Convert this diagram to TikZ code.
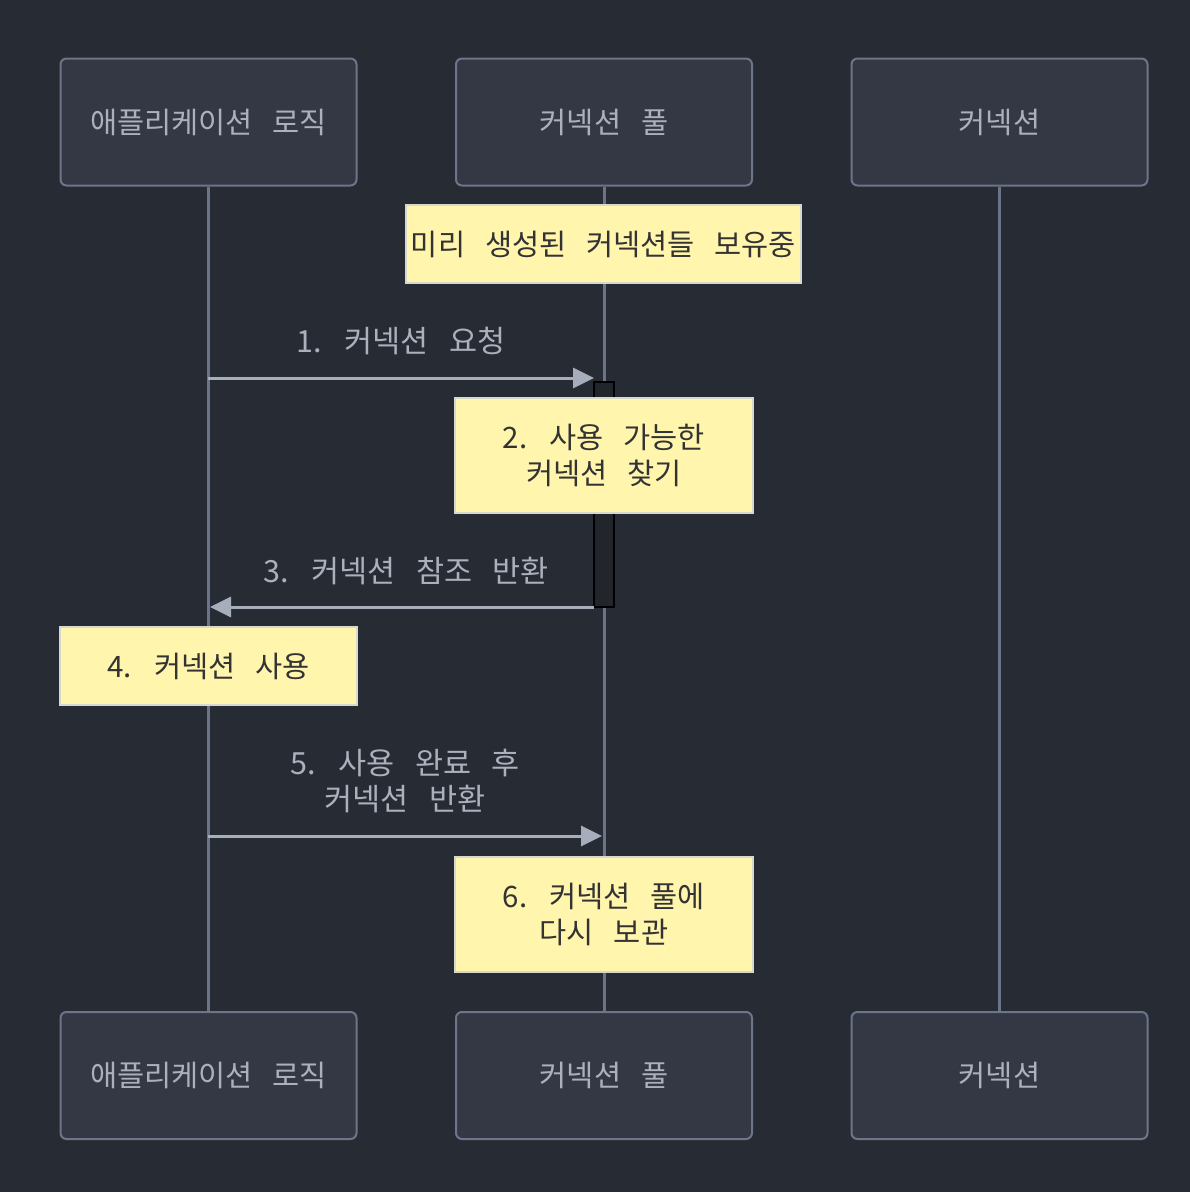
\documentclass[tikz,border=0pt]{standalone}
\usepackage{fontspec}
\setmainfont{Noto Sans CJK KR}[WordSpace=3.0]
\usepackage{xcolor}
\usetikzlibrary{arrows.meta, positioning}
\definecolor{bgcol}{HTML}{272B34}
\definecolor{actfill}{HTML}{333844}
\definecolor{actline}{HTML}{6C7589}
\definecolor{acttext}{HTML}{AAB0BC}
\definecolor{lifecol}{HTML}{6B7488}
\definecolor{msgcol}{HTML}{A7AEBB}
\definecolor{notefill}{HTML}{FFF5AD}
\definecolor{noteline}{HTML}{D8D8CC}
\definecolor{barfill}{HTML}{22252C}

\begin{document}
\begin{tikzpicture}[
  x=1pt, y=-1pt,
  actor/.style={rectangle, draw=actline, line width=2pt, rounded corners=6pt, fill=actfill,
    text=acttext, minimum width=296pt, minimum height=127pt, font=\fontsize{29.5}{36}\selectfont},
  note/.style={rectangle, draw=noteline, line width=1.5pt, fill=notefill, text=black!80,
    align=center, font=\fontsize{29.5}{36}\selectfont},
  life/.style={draw=lifecol, line width=3pt},
  msg/.style={draw=msgcol, line width=3pt, -{Triangle[length=21pt, width=20pt]}},
  lbl/.style={text=acttext, align=center, font=\fontsize{30.5}{36}\selectfont}
]
\fill[bgcol] (0,0) rectangle (1190,1192);
\useasboundingbox (0,0) rectangle (1190,1192);

\node[actor] (appT) at (208.5,122) {애플리케이션 로직};
\node[actor] (poolT) at (604,122) {커넥션 풀};
\node[actor] (connT) at (999.5,122) {커넥션};
\node[actor] (appB) at (208.5,1075.5) {애플리케이션 로직};
\node[actor] (poolB) at (604,1075.5) {커넥션 풀};
\node[actor] (connB) at (999.5,1075.5) {커넥션};

\draw[life] (appT) -- (appB);
\draw[life] (poolT) -- (poolB);
\draw[life] (connT) -- (connB);

\node[note, minimum width=395pt, minimum height=78pt] (n1) at (603.5,244) {미리 생성된 커넥션들 보유중};

\node[rectangle, draw=black, line width=2pt, fill=barfill, minimum width=20pt,
  minimum height=225pt] (act) at (604,494.5) {};

\coordinate (m1a) at (208,378);
\coordinate (m1b) at (594,378);
\draw[msg] (m1a) -- node[lbl, yshift=37pt] {1. 커넥션 요청} (m1b);

\node[note, minimum width=298pt, minimum height=115pt] (n2) at (604,455.5) {2. 사용 가능한\\커넥션 찾기};

\coordinate (m3a) at (594,607);
\coordinate (m3b) at (210,607);
\draw[msg] (m3a) -- node[lbl, yshift=36pt, xshift=4pt] {3. 커넥션 참조 반환} (m3b);

\node[note, minimum width=297pt, minimum height=78pt] (n4) at (208.5,666) {4. 커넥션 사용};

\coordinate (m5a) at (208,836);
\coordinate (m5b) at (602,836);
\draw[msg] (m5a) -- node[lbl, yshift=55pt] {5. 사용 완료 후\\커넥션 반환} (m5b);

\node[note, minimum width=298pt, minimum height=115pt] (n6) at (604,914.5) {6. 커넥션 풀에\\다시 보관};
\end{tikzpicture}
\end{document}
